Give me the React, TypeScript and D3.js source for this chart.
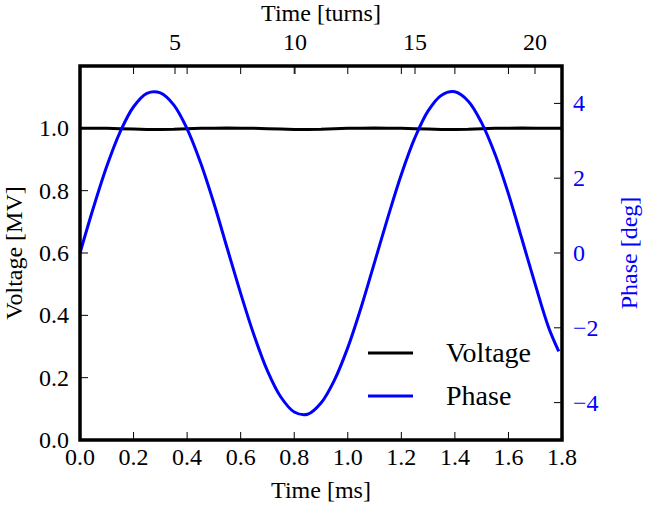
import React from 'react';
import * as d3 from 'd3';

// time samples [ms] and values
const timeMs = [
    0, 0.05, 0.1, 0.15, 0.2, 0.25, 0.3, 0.35, 0.4, 0.45, 0.5, 0.55, 0.6, 0.65, 0.7, 0.75, 0.8, 0.85,
    0.9, 0.95, 1.0, 1.05, 1.1, 1.15, 1.2, 1.25, 1.3, 1.35, 1.4, 1.45, 1.5, 1.55, 1.6, 1.65, 1.7, 1.75, 1.8,
];
const voltage = [
    1.0, 1.0, 1.0, 0.999, 0.998, 0.996, 0.996, 0.997, 0.999, 1.0, 1.0, 1.001, 1.0, 1.0, 0.999, 0.998,
    0.996, 0.996, 0.997, 0.999, 1.0, 1.0, 1.001, 1.0, 1.0, 0.999, 0.998, 0.996, 0.996, 0.997, 0.999,
    1.0, 1.0, 1.001, 1.0, 1.0, 1.0,
];
const phaseTime = [
    0, 0.05, 0.1, 0.15, 0.2, 0.25, 0.3, 0.35, 0.4, 0.45, 0.5, 0.55, 0.6, 0.65, 0.7, 0.75, 0.8, 0.85,
    0.9, 0.95, 1.0, 1.05, 1.1, 1.15, 1.2, 1.25, 1.3, 1.35, 1.4, 1.45, 1.5, 1.55, 1.6, 1.65, 1.7, 1.75, 1.788,
];
const phase = [
    0, 1.21, 2.32, 3.24, 3.91, 4.27, 4.28, 3.96, 3.32, 2.42, 1.33, 0.12, -1.08, -2.2, -3.15, -3.85,
    -4.25, -4.31, -4.01, -3.4, -2.53, -1.45, -0.25, 0.96, 2.1, 3.07, 3.8, 4.22, 4.31, 4.06, 3.48, 2.64,
    1.58, 0.38, -0.84, -1.99, -2.63,
];

const msTicks = [0, 0.2, 0.4, 0.6, 0.8, 1.0, 1.2, 1.4, 1.6, 1.8];
const turnTicks = [5, 10, 15, 20];
const voltTicks = [0, 0.2, 0.4, 0.6, 0.8, 1.0];
const phaseTicks = [-4, -2, 0, 2, 4];

const BLUE = '#0000ff';
const serif = (size = 24): React.CSSProperties => ({ fontFamily: '"Liberation Serif"', fontSize: size });

const width = 670;
const height = 512;
const left = 80, right = 562, top = 66, bottom = 440;
const tickLen = 8;

const x = d3.scaleLinear().domain([0, 1.8]).range([left, right]);
// turns axis on top: 5 turns every 0.45 ms
const xTurns = d3.scaleLinear().domain([5, 20]).range([175, 535]);
const yV = d3.scaleLinear().domain([0, 1.2]).range([bottom, top]);
const yP = d3.scaleLinear().domain([-5, 5]).range([bottom, top]);

const voltLine = d3.line<number>()
    .x((_, i) => x(timeMs[i]))
    .y((d) => yV(d));
const phaseLine = d3.line<number>()
    .x((_, i) => x(phaseTime[i]))
    .y((d) => yP(d))
    .curve(d3.curveCatmullRom);

const fmt = d3.format('.1f');
const minus = (v: number) => String(v).replace('-', '\u2212');

const legendItems = [
    { label: 'Voltage', color: '#000', y: 353 },
    { label: 'Phase', color: BLUE, y: 396 },
];

const App: React.FC = () => {
    document.body.style.margin = '0';
    return (
        <svg width={width} height={height} style={{ display: 'block', background: '#fff' }}>
            <path d={voltLine(voltage) ?? ''} fill="none" stroke="#000" strokeWidth={3} />
            <path d={phaseLine(phase) ?? ''} fill="none" stroke={BLUE} strokeWidth={3} />

            <g stroke="#000" strokeWidth={1}>
                {msTicks.map((t) => (
                    <g key={`m${t}`}>
                        <line x1={x(t)} x2={x(t)} y1={bottom} y2={bottom - tickLen} />
                        <line x1={x(t)} x2={x(t)} y1={top} y2={top + tickLen} />
                    </g>
                ))}
                {turnTicks.map((t) => (
                    <line key={`t${t}`} x1={xTurns(t)} x2={xTurns(t)} y1={top} y2={top + tickLen} />
                ))}
                {voltTicks.map((v) => (
                    <line key={`v${v}`} x1={left} x2={left + tickLen} y1={yV(v)} y2={yV(v)} />
                ))}
                {phaseTicks.map((p) => (
                    <line key={`p${p}`} x1={right} x2={right - tickLen} y1={yP(p)} y2={yP(p)} />
                ))}
            </g>

            <rect x={left} y={top} width={right - left} height={bottom - top}
                fill="none" stroke="#000" strokeWidth={3.5} />

            {msTicks.map((t) => (
                <text key={`ml${t}`} x={x(t)} y={465} textAnchor="middle" style={serif()}>{fmt(t)}</text>
            ))}
            {turnTicks.map((t) => (
                <text key={`tl${t}`} x={xTurns(t)} y={50} textAnchor="middle" style={serif()}>{t}</text>
            ))}
            {voltTicks.map((v) => (
                <text key={`vl${v}`} x={69} y={yV(v)} dy="0.33em" textAnchor="end" style={serif()}>{fmt(v)}</text>
            ))}
            {phaseTicks.map((p) => (
                <text key={`pl${p}`} x={573} y={yP(p)} dy="0.33em" fill={BLUE} style={serif()}>{minus(p)}</text>
            ))}

            <text x={(left + right) / 2} y={498} textAnchor="middle" style={serif()}>Time [ms]</text>
            <text x={(left + right) / 2} y={21} textAnchor="middle" style={serif()}>Time [turns]</text>
            <text transform={`translate(22,${(top + bottom) / 2}) rotate(-90)`} textAnchor="middle"
                style={serif()}>Voltage [MV]</text>
            <text transform={`translate(637,${(top + bottom) / 2}) rotate(-90)`} textAnchor="middle"
                fill={BLUE} style={serif()}>Phase [deg]</text>

            {legendItems.map((it) => (
                <g key={it.label}>
                    <line x1={368} x2={413} y1={it.y} y2={it.y} stroke={it.color} strokeWidth={3} />
                    <text x={446} y={it.y} dy="0.33em" style={serif(28)}>{it.label}</text>
                </g>
            ))}
        </svg>
    );
};

export default App;
